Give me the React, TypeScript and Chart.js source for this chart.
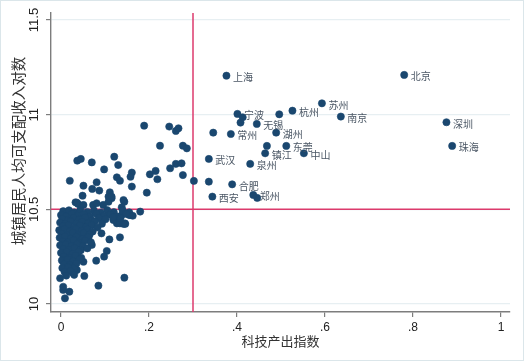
import React, { useEffect, useRef } from 'react';
import { Chart, registerables } from 'chart.js';
Chart.register(...registerables);

// ---- data ----
const cityNames = ['北京', '上海', '苏州', '杭州', '南京', '宁波', '无锡', '常州', '湖州', '东莞', '镇江', '中山', '武汉', '泉州', '合肥', '西安', '郑州', '深圳', '珠海'];
const cityX = [0.78, 0.376, 0.593, 0.526, 0.636, 0.401, 0.445, 0.386, 0.489, 0.512, 0.464, 0.552, 0.336, 0.43, 0.389, 0.344, 0.437, 0.876, 0.889];
const cityY = [11.21, 11.206, 11.06, 11.021, 10.99, 11.004, 10.951, 10.898, 10.905, 10.835, 10.796, 10.796, 10.766, 10.74, 10.632, 10.567, 10.576, 10.96, 10.835];

// unlabeled cities: [科技产出指数, 收入对数]
const otherCities: [number, number][] = [
  [0.413, 10.986], [0.408, 10.958], [0.496, 11.002], [0.346, 10.905], [0.468, 10.835], [0.336, 10.646], [0.446, 10.56],
  [0.189, 10.942], [0.246, 10.937], [0.261, 10.914], [0.267, 10.928], [0.225, 10.836], [0.277, 10.836], [0.286, 10.822],
  [0.037, 10.757], [0.045, 10.766], [0.07, 10.748], [0.121, 10.778], [0.13, 10.734], [0.098, 10.711], [0.161, 10.694],
  [0.158, 10.672], [0.202, 10.685], [0.215, 10.703], [0.248, 10.717], [0.261, 10.74], [0.274, 10.743], [0.277, 10.681],
  [0.302, 10.65], [0.219, 10.659], [0.127, 10.669], [0.134, 10.651], [0.161, 10.62], [0.195, 10.588], [0.02, 10.651],
  [0.051, 10.625], [0.081, 10.643], [0.071, 10.608], [0.087, 10.599], [0.111, 10.59], [0.108, 10.567], [0.115, 10.558],
  [0.049, 10.572], [0.033, 10.537], [0.039, 10.528], [0.144, 10.54], [0.138, 10.511], [0.18, 10.488],
  [0.036, 10.535], [0.051, 10.523], [0.073, 10.523], [0.081, 10.532], [0.096, 10.523], [0.108, 10.54], [0.115, 10.567],
  [0.142, 10.549], [0.157, 10.47], [0.145, 10.426], [0.127, 10.426], [0.155, 10.47], [0.138, 10.47], [0.127, 10.453],
  [0.119, 10.444], [0.134, 10.426], [0.142, 10.423], [0.146, 10.423],
  [0.092, 10.373], [0.11, 10.341], [0.134, 10.352], [0.062, 10.347], [0.07, 10.312], [0.104, 10.28], [0.098, 10.25],
  [0.08, 10.229], [0.051, 10.223], [0.036, 10.18], [0.053, 10.148], [0.144, 10.139], [0.085, 10.097], [0.009, 10.03],
  [0.019, 10.065], [0.005, 10.074], [-0.002, 10.136], [0.028, 10.162], [0.005, 10.091],
  // dense cluster
  [0.005, 10.49], [0.018, 10.495], [0.03, 10.484], [0.044, 10.497], [0.06, 10.486], [0.075, 10.493], [0.09, 10.483], [0.105, 10.496], [0.12, 10.485], [0.14, 10.494], [0.155, 10.484],
  [0.0, 10.47], [0.012, 10.463], [0.025, 10.476], [0.038, 10.465], [0.052, 10.474], [0.066, 10.462], [0.08, 10.477], [0.098, 10.466], [0.112, 10.473], [0.128, 10.461], [0.148, 10.476], [0.163, 10.466],
  [0.003, 10.45], [0.016, 10.443], [0.029, 10.455], [0.041, 10.446], [0.055, 10.456], [0.07, 10.441], [0.086, 10.454], [0.101, 10.447], [0.118, 10.458], [0.135, 10.452],
  [-0.002, 10.43], [0.01, 10.424], [0.022, 10.436], [0.035, 10.422], [0.048, 10.434], [0.062, 10.426], [0.077, 10.437], [0.093, 10.424],
  [0.004, 10.41], [0.017, 10.415], [0.03, 10.403], [0.043, 10.414], [0.057, 10.405], [0.07, 10.417], [0.083, 10.404],
  [-0.004, 10.39], [0.008, 10.396], [0.02, 10.384], [0.034, 10.395], [0.047, 10.386], [0.06, 10.394], [0.072, 10.383],
  [0.002, 10.37], [0.014, 10.364], [0.027, 10.376], [0.04, 10.363], [0.052, 10.375], [0.065, 10.366],
  [-0.003, 10.35], [0.009, 10.356], [0.022, 10.345], [0.035, 10.355], [0.048, 10.343], [0.061, 10.354],
  [0.004, 10.33], [0.016, 10.325], [0.029, 10.336], [0.042, 10.324], [0.055, 10.335], [0.068, 10.326],
  [-0.002, 10.31], [0.011, 10.315], [0.024, 10.305], [0.037, 10.316], [0.05, 10.306],
  [0.005, 10.29], [0.018, 10.285], [0.031, 10.295], [0.045, 10.284], [0.06, 10.294],
  [0.0, 10.27], [0.013, 10.275], [0.026, 10.265], [0.04, 10.276],
  [0.006, 10.25], [0.019, 10.245], [0.033, 10.255], [0.046, 10.244],
  [0.002, 10.23], [0.015, 10.235], [0.028, 10.225], [0.042, 10.236],
  [0.007, 10.21], [0.02, 10.205], [0.035, 10.214],
  [0.003, 10.19], [0.016, 10.195], [0.03, 10.186],
  [0.008, 10.17], [0.022, 10.174],
  [0.012, 10.15], [0.03, 10.154],
];

const xTicks = [0, 0.2, 0.4, 0.6, 0.8, 1];
const xTickLabels = ['0', '.2', '.4', '.6', '.8', '1'];
const yTicks = [10, 10.5, 11, 11.5];
const yTickLabels = ['10', '10.5', '11', '11.5'];
const refLineX = 0.3;
const refLineY = 10.5;
const xTitle = '科技产出指数';
const yTitle = '城镇居民人均可支配收入对数';

const X_MIN = -0.02273;
const X_MAX = 1.02045;
const Y_MIN = 9.9577;
const Y_MAX = 11.537;

const NAVY = '#1a476f';
const RED = '#dc3a6c';
const AXIS = '#7d7d7d';
const NUM_FONT = "'Liberation Sans', Arial, sans-serif";
const CJK_FONT = "'Noto Sans CJK SC', 'Noto Sans', sans-serif";

export default function App() {
  const ref = useRef<HTMLCanvasElement | null>(null);

  useEffect(() => {
    document.body.style.margin = '0';
    const canvas = ref.current;
    if (!canvas) return;

    const bgPlugin = {
      id: 'bgBorder',
      beforeDraw(chart: any) {
        const ctx = chart.ctx;
        ctx.save();
        ctx.fillStyle = '#ffffff';
        ctx.fillRect(0, 0, chart.width, chart.height);
        ctx.restore();
      },
      afterDraw(chart: any) {
        const ctx = chart.ctx;
        ctx.save();
        ctx.strokeStyle = '#dbe6ea';
        ctx.lineWidth = 1;
        ctx.strokeRect(0.5, 0.5, chart.width - 1, chart.height - 1);
        // y-axis title, centred a little above the plot middle as in the original
        ctx.translate(18.5, 151);
        ctx.rotate(-Math.PI / 2);
        ctx.font = `14.5px ${CJK_FONT}`;
        ctx.fillStyle = '#333';
        ctx.textAlign = 'center';
        ctx.textBaseline = 'middle';
        ctx.fillText(yTitle, 0, 0);
        ctx.restore();
      },
    };

    const labelPlugin = {
      id: 'cityLabels',
      afterDatasetsDraw(chart: any) {
        const meta = chart.getDatasetMeta(0);
        const ctx = chart.ctx;
        ctx.save();
        ctx.font = `10px ${CJK_FONT}`;
        ctx.fillStyle = '#4a5664';
        ctx.textBaseline = 'middle';
        ctx.textAlign = 'left';
        meta.data.forEach((el: any, i: number) => {
          ctx.fillText(cityNames[i], el.x + 6.5, el.y + 1.5);
        });
        ctx.restore();
      },
    };

    const pointStyle = {
      pointRadius: 3.6,
      pointHoverRadius: 3.6,
      pointBackgroundColor: NAVY,
      pointBorderColor: NAVY,
      pointBorderWidth: 0.6,
      backgroundColor: NAVY,
      borderColor: NAVY,
    };

    const chart = new Chart(canvas, {
      type: 'scatter',
      data: {
        datasets: [
          {
            data: cityX.map((x, i) => ({ x, y: cityY[i] })),
            order: 0,
            ...pointStyle,
          } as any,
          {
            data: otherCities.map(([x, y]) => ({ x, y })),
            order: 1,
            ...pointStyle,
          } as any,
          {
            type: 'line',
            data: [{ x: refLineX, y: Y_MIN }, { x: refLineX, y: Y_MAX }],
            showLine: true,
            borderColor: RED,
            borderWidth: 1.5,
            pointRadius: 0,
            order: 2,
          } as any,
          {
            type: 'line',
            data: [{ x: X_MIN, y: refLineY }, { x: X_MAX, y: refLineY }],
            showLine: true,
            borderColor: RED,
            borderWidth: 1.5,
            pointRadius: 0,
            order: 3,
          } as any,
        ],
      },
      options: {
        animation: false,
        responsive: false,
        events: [],
        layout: { padding: { top: 13, right: 14, left: 0, bottom: 0 } },
        plugins: { legend: { display: false }, tooltip: { enabled: false } },
        scales: {
          x: {
            type: 'linear',
            min: X_MIN,
            max: X_MAX,
            afterBuildTicks: (s: any) => { s.ticks = xTicks.map((v) => ({ value: v })); },
            afterFit: (s: any) => { s.height = 49; },
            grid: { display: true, drawOnChartArea: false, color: AXIS, tickColor: AXIS, tickLength: 5, lineWidth: 1.2 },
            border: { display: true, color: AXIS, width: 1.4 },
            ticks: {
              autoSkip: false,
              maxRotation: 0,
              minRotation: 0,
              padding: 3,
              color: '#222',
              font: { family: NUM_FONT, size: 12 },
              callback: (_v: any, i: number) => xTickLabels[i],
            },
            title: {
              display: true,
              text: xTitle,
              color: '#333',
              font: { family: CJK_FONT, size: 13 },
              padding: { top: 0, bottom: 12 },
            },
          },
          y: {
            type: 'linear',
            min: Y_MIN,
            max: Y_MAX,
            afterBuildTicks: (s: any) => { s.ticks = yTicks.map((v) => ({ value: v })); },
            afterFit: (s: any) => { s.width = 51; },
            grid: { display: true, color: '#e7eff2', tickColor: AXIS, tickLength: 5, lineWidth: 1.2 },
            border: { display: true, color: AXIS, width: 1.4 },
            ticks: {
              autoSkip: false,
              minRotation: 90,
              maxRotation: 90,
              crossAlign: 'center',
              padding: -1.5,
              color: '#222',
              font: { family: NUM_FONT, size: 13 },
              callback: (_v: any, i: number) => yTickLabels[i],
            },
            title: { display: false },
          },
        },
      },
      plugins: [bgPlugin, labelPlugin],
    } as any);

    return () => chart.destroy();
  }, []);

  return <canvas ref={ref} width={524} height={361} style={{ display: 'block' }} />;
}
